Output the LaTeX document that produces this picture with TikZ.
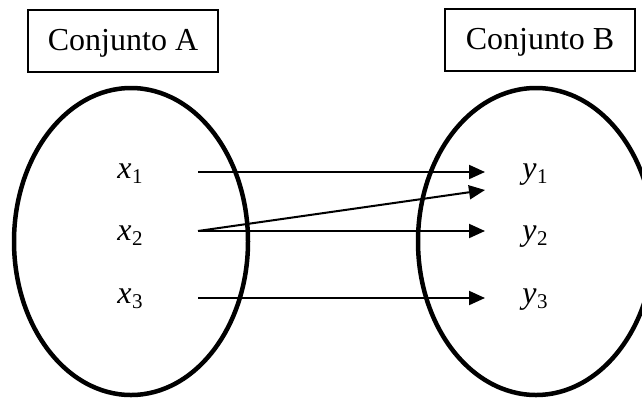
\documentclass[tikz,border=0pt]{standalone}
\usepackage{fontspec}
\setmainfont{Liberation Serif}
\usetikzlibrary{arrows.meta}
\newcommand\elemlabel[2]{\textit{#1}\kern0.5pt\raisebox{-5.5pt}{\fontsize{21}{24}\selectfont #2}}
\tikzset{
  setbox/.style={draw, line width=1.3pt, minimum width=190pt, minimum height=62pt, inner sep=0pt,
    text height=24pt, text depth=6pt, font=\fontsize{32}{38}\selectfont},
  setellipse/.style={line width=4.5pt},
  elem/.style={anchor=base, inner sep=0pt, font=\fontsize{32}{38}\selectfont},
  maparrow/.style={line width=2pt, -{Triangle[length=16pt,width=14pt]}}
}
\begin{document}
\begin{tikzpicture}[x=1pt,y=-1pt]
\useasboundingbox (0,0) rectangle (642,397);
\node[setbox] (boxA) at (123,41) {Conjunto A};
\node[setbox] (boxB) at (540,40) {Conjunto B};
\draw[setellipse] (131,241.5) ellipse [x radius=117pt, y radius=153.5pt];
\draw[setellipse] (536,241.5) ellipse [x radius=118pt, y radius=153.5pt];
\node[elem] (x1) at (130,178) {\elemlabel{x}{1}};
\node[elem] (x2) at (130,240) {\elemlabel{x}{2}};
\node[elem] (x3) at (130,303) {\elemlabel{x}{3}};
\node[elem] (y1) at (535,178) {\elemlabel{y}{1}};
\node[elem] (y2) at (535,240) {\elemlabel{y}{2}};
\node[elem] (y3) at (535,303) {\elemlabel{y}{3}};
\coordinate (s1) at (198,172);
\coordinate (s2) at (198,231);
\coordinate (s3) at (198,298);
\coordinate (t1) at (485,172);
\coordinate (t1b) at (485,190);
\coordinate (t2) at (485,231);
\coordinate (t3) at (485,298);
\draw[maparrow] (s1) -- (t1);
\draw[maparrow] (s2) -- (t1b);
\draw[maparrow] (s2) -- (t2);
\draw[maparrow] (s3) -- (t3);
\end{tikzpicture}
\end{document}
